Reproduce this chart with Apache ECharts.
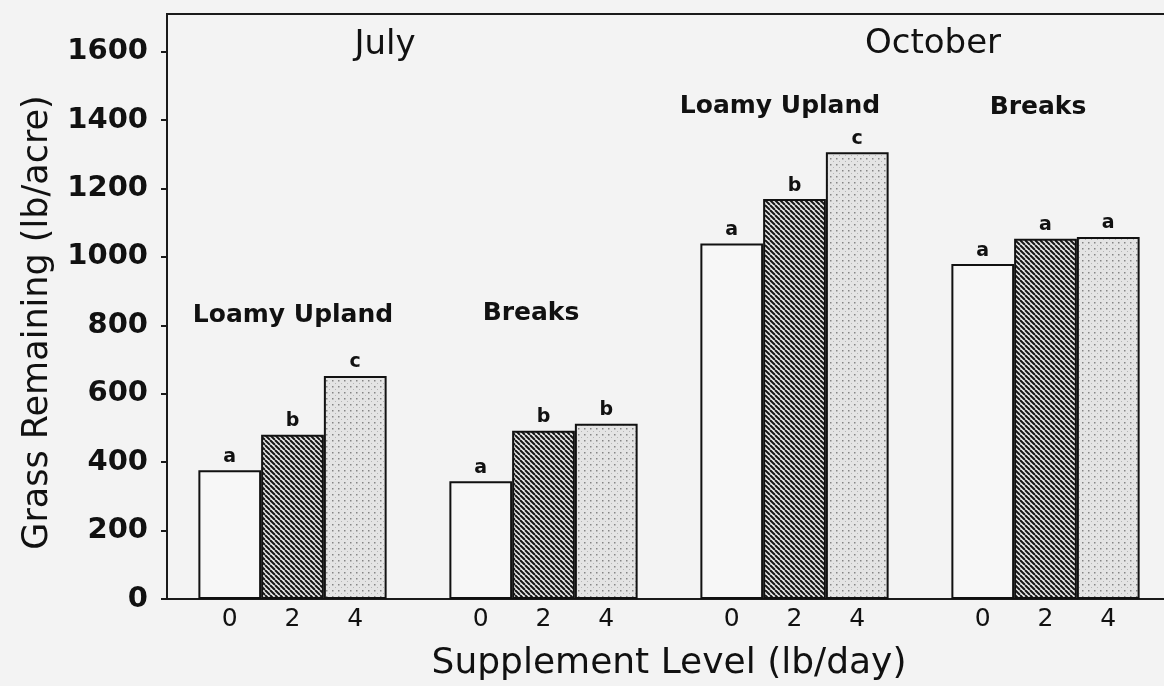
<!DOCTYPE html>
<html>
<head>
<meta charset="utf-8">
<script src="https://cdn.jsdelivr.net/npm/echarts@6/dist/echarts.min.js"></script>
<style>
	html, body { margin: 0; padding: 0; background: #f3f3f3; overflow: hidden; }
	/* plot frame runs a few px past the right edge, like the cropped scan */
	#chart { width: 1171px; height: 686px; }
</style>
</head>
<body>
<div id="chart"></div>
<script>
// groups along the x axis (month + site)
var groups = ["July Loamy Upland", "July Breaks", "October Loamy Upland", "October Breaks"];
// supplement level tick labels, one slot between groups
var levelTicks = ["", "0", "2", "4", "", "0", "2", "4", "", "0", "2", "4", "", "0", "2", "4", ""];
// grass remaining (lb/acre) per supplement level
var level0 = [376, 344, 1039, 979];
var level2 = [480, 492, 1169, 1053];
var level4 = [652, 512, 1306, 1058];
// significance letters
var letters0 = ["a", "a", "a", "a"];
var letters2 = ["b", "b", "b", "a"];
var letters4 = ["c", "b", "c", "a"];

// fill patterns like the printed figure
function hatchPattern() {
	var s = 5;
	var c = document.createElement("canvas");
	c.width = s;
	c.height = s;
	var ctx = c.getContext("2d");
	ctx.fillStyle = "#e8e8e8";
	ctx.fillRect(0, 0, s, s);
	ctx.strokeStyle = "#161616";
	ctx.lineWidth = 2;
	for (var x0 = -s; x0 <= s; x0 += s) {
		ctx.beginPath();
		ctx.moveTo(x0, 0);
		ctx.lineTo(x0 + s, s);
		ctx.stroke();
	}
	return c;
}
function dotPattern() {
	var s = 6;
	var c = document.createElement("canvas");
	c.width = s;
	c.height = s;
	var ctx = c.getContext("2d");
	ctx.fillStyle = "#e4e4e4";
	ctx.fillRect(0, 0, s, s);
	ctx.fillStyle = "#858585";
	ctx.fillRect(2, 2, 1.5, 1.5);
	ctx.fillStyle = "#b5b5b5";
	ctx.fillRect(5, 5, 1, 1);
	return c;
}

function withLetters(values, letters) {
	return values.map(function (v, i) {
		return { value: v, label: { formatter: letters[i] } };
	});
}

var chart = echarts.init(document.getElementById("chart"));
var barLabel = {
	show: true,
	position: "top",
	distance: 4,
	color: "#111",
	fontFamily: "DejaVu Sans",
	fontWeight: "bold",
	fontSize: 19,
};
var barBorder = { borderColor: "#111", borderWidth: 2 };

var option = {
	backgroundColor: "#f3f3f3",
	animation: false,
	grid: {
		left: 167,
		top: 14,
		right: 0,
		bottom: 87,
		outerBoundsMode: "none",
		show: true,
		borderColor: "#1a1a1a",
		borderWidth: 2,
	},
	xAxis: [
		{
			type: "category",
			data: groups,
			axisLine: { lineStyle: { color: "#1a1a1a", width: 2 } },
			axisTick: { show: false },
			axisLabel: { show: false },
			name: "Supplement Level (lb/day)",
			nameLocation: "middle",
			nameGap: 47,
			nameTextStyle: { color: "#111", fontFamily: "DejaVu Sans", fontSize: 36 },
		},
		{
			type: "category",
			data: levelTicks,
			position: "bottom",
			boundaryGap: false,
			axisLine: { show: false },
			axisTick: { show: false },
			axisLabel: {
				interval: 0,
				margin: 8,
				color: "#111",
				fontFamily: "DejaVu Sans",
				fontSize: 25,
			},
		},
	],
	yAxis: {
		type: "value",
		min: 0,
		max: 1710,
		interval: 200,
		splitLine: { show: false },
		axisLine: { show: true, lineStyle: { color: "#1a1a1a", width: 2 } },
		axisTick: { show: true, length: 6, lineStyle: { color: "#1a1a1a", width: 2 } },
		axisLabel: {
			showMaxLabel: false,
			margin: 19,
			color: "#111",
			fontFamily: "DejaVu Sans",
			fontWeight: "bold",
			fontSize: 29,
			formatter: function (v) {
				return String(v);
			},
		},
		name: "Grass Remaining (lb/acre)",
		nameLocation: "middle",
		nameGap: 112,
		nameTextStyle: {
			color: "#111",
			fontFamily: "DejaVu Sans",
			fontSize: 35,
			padding: [0, 32, 0, 0],
		},
	},
	graphic: [
		{ type: "text", x: 385, y: 45, style: { text: "July", font: "34px 'DejaVu Sans'", fill: "#111", align: "center", verticalAlign: "middle" } },
		{ type: "text", x: 933, y: 44, style: { text: "October", font: "34px 'DejaVu Sans'", fill: "#111", align: "center", verticalAlign: "middle" } },
		{ type: "text", x: 293, y: 315, style: { text: "Loamy Upland", font: "bold 25px 'DejaVu Sans'", fill: "#111", align: "center", verticalAlign: "middle" } },
		{ type: "text", x: 531, y: 313, style: { text: "Breaks", font: "bold 25px 'DejaVu Sans'", fill: "#111", align: "center", verticalAlign: "middle" } },
		{ type: "text", x: 780, y: 106, style: { text: "Loamy Upland", font: "bold 25px 'DejaVu Sans'", fill: "#111", align: "center", verticalAlign: "middle" } },
		{ type: "text", x: 1038, y: 107, style: { text: "Breaks", font: "bold 25px 'DejaVu Sans'", fill: "#111", align: "center", verticalAlign: "middle" } },
	],
	series: [
		{
			name: "0",
			type: "bar",
			barGap: "0%",
			barCategoryGap: "25%",
			data: withLetters(level0, letters0),
			label: barLabel,
			itemStyle: Object.assign({ color: "#f7f7f7" }, barBorder),
		},
		{
			name: "2",
			type: "bar",
			barGap: "0%",
			barCategoryGap: "25%",
			data: withLetters(level2, letters2),
			label: barLabel,
			itemStyle: Object.assign({ color: { image: hatchPattern(), repeat: "repeat" } }, barBorder),
		},
		{
			name: "4",
			type: "bar",
			barGap: "0%",
			barCategoryGap: "25%",
			data: withLetters(level4, letters4),
			label: barLabel,
			itemStyle: Object.assign({ color: { image: dotPattern(), repeat: "repeat" } }, barBorder),
		},
	],
};

option && chart.setOption(option);
</script>
</body>
</html>
